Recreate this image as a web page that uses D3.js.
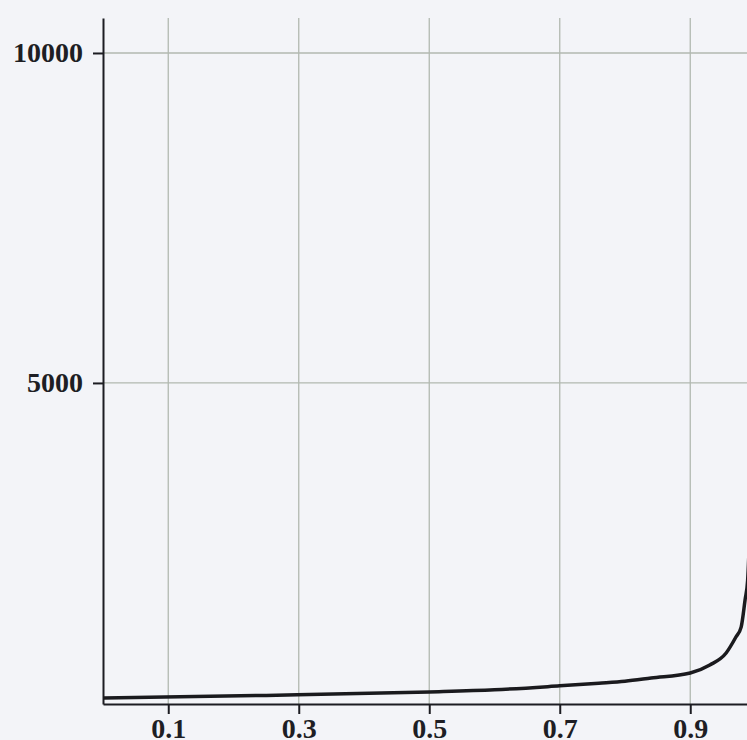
<!DOCTYPE html>
<html>
<head>
<meta charset="utf-8">
<script src="https://cdn.jsdelivr.net/npm/d3@7"></script>
<style>
  html, body { margin: 0; padding: 0; background: #f3f4f8; overflow: hidden; }
  svg { display: block; }
</style>
</head>
<body>
<div id="chart"></div>
<script>
// Data
const xValues = [0, 0.25, 0.5, 0.6, 0.7, 0.76, 0.8, 0.84, 0.9, 0.93, 0.955, 0.97, 0.978, 0.984, 0.988, 0.992];
const yValues = [226, 265, 317, 350, 410, 450, 480, 529, 605, 726, 908, 1150, 1300, 1711, 2014, 3000];
const xTicks = [0.1, 0.3, 0.5, 0.7, 0.9];
const yTicks = [5000, 10000];

const width = 747;
const height = 740;

const svg = d3.select("#chart")
  .append("svg")
  .attr("width", width)
  .attr("height", height);

const x = d3.scaleLinear().domain([0, 1]).range([103, 755.5]);
const y = d3.scaleLinear().domain([135, 10530]).range([704, 18]);

// grid
svg.append("g")
  .selectAll("line")
  .data(xTicks)
  .join("line")
  .attr("x1", d => x(d)).attr("x2", d => x(d))
  .attr("y1", y(10530)).attr("y2", y(135))
  .attr("stroke", "#b2b9b0")
  .attr("stroke-width", 1.3);

svg.append("g")
  .selectAll("line")
  .data(yTicks)
  .join("line")
  .attr("x1", x(0)).attr("x2", width)
  .attr("y1", d => y(d)).attr("y2", d => y(d))
  .attr("stroke", "#b2b9b0")
  .attr("stroke-width", 1.3);

// axes
const xAxis = svg.append("g")
  .attr("transform", `translate(0,${y(135)})`)
  .call(d3.axisBottom(x).tickValues(xTicks).tickFormat(d3.format(".1f"))
    .tickSize(10).tickPadding(4).tickSizeOuter(0));

const yAxis = svg.append("g")
  .attr("transform", `translate(${x(0)},0)`)
  .call(d3.axisLeft(y).tickValues(yTicks).tickFormat(d3.format("d"))
    .tickSize(10).tickPadding(10).tickSizeOuter(0));

[xAxis, yAxis].forEach(g => {
  g.select(".domain").attr("stroke", "#1c1c22").attr("stroke-width", 2);
  g.selectAll(".tick line").attr("stroke", "#1c1c22").attr("stroke-width", 2);
  g.selectAll("text")
    .attr("fill", "#1e1e24")
    .style("font-family", "'Liberation Serif', 'Times New Roman', serif")
    .style("font-weight", "bold")
    .style("font-size", "28px");
});

// curve
const points = xValues.map((v, i) => [v, yValues[i]]);
const line = d3.line()
  .x(d => x(d[0]))
  .y(d => y(d[1]))
  .curve(d3.curveMonotoneX);

svg.append("path")
  .datum(points)
  .attr("d", line)
  .attr("fill", "none")
  .attr("stroke", "#1a1a1e")
  .attr("stroke-width", 3.5);
</script>
</body>
</html>
